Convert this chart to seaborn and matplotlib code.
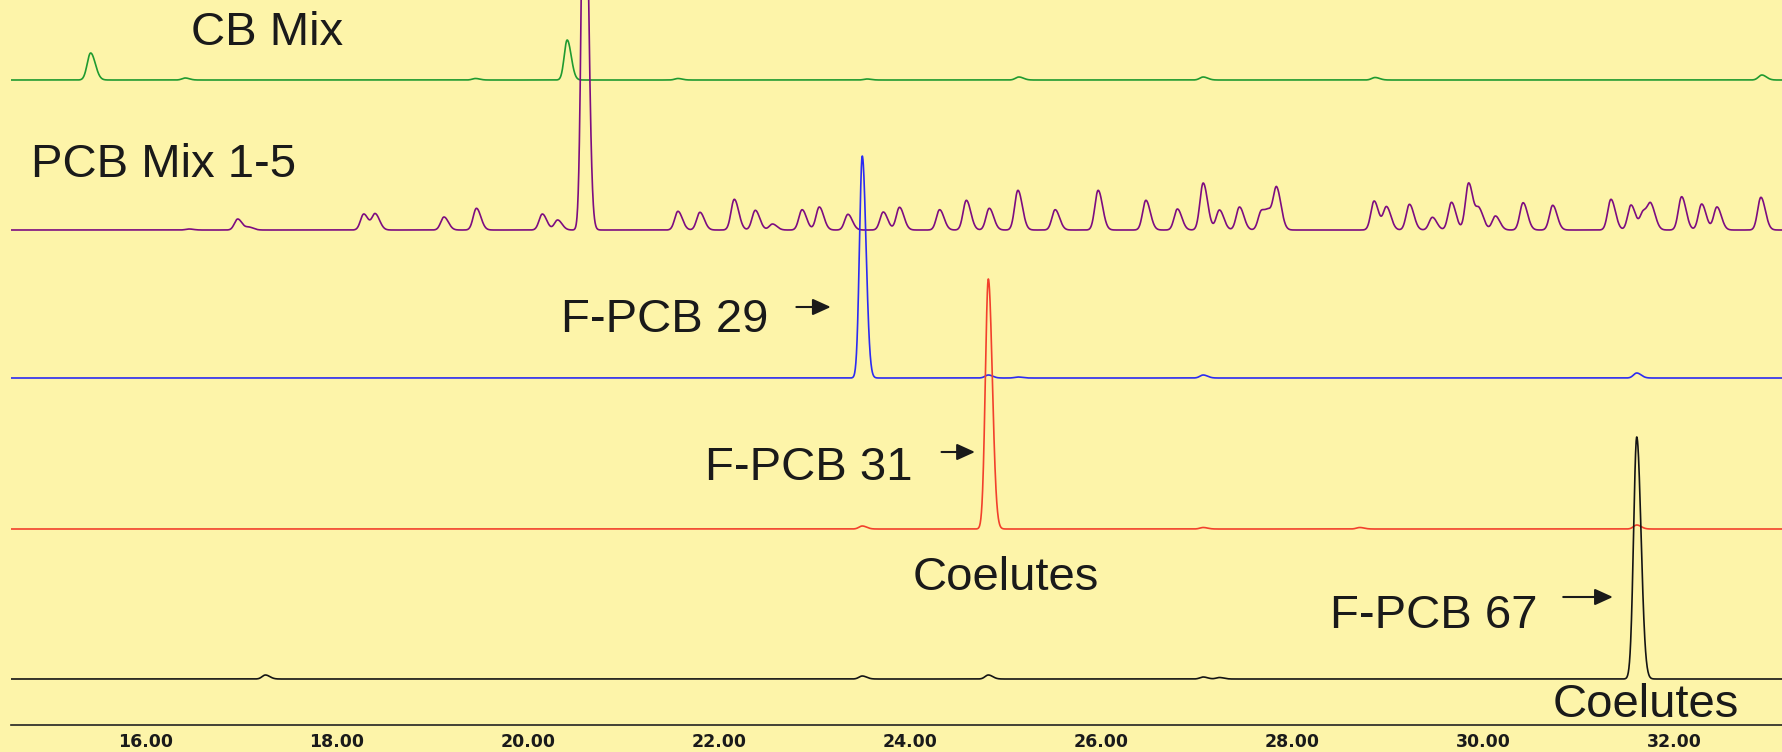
import numpy as np
import pandas as pd
import matplotlib
matplotlib.use("Agg")
import matplotlib.pyplot as plt
import seaborn as sns
from matplotlib.ticker import MultipleLocator, FixedLocator, FixedFormatter

# ---- peak tables: retention time (min), peak height (detector units), sigma (min) ----
cb_mix_rt = [15.42, 16.41, 19.45, 20.41, 21.57, 23.55, 25.14, 27.07, 28.87, 32.92]
cb_mix_h = [27, 2, 1.5, 40, 1.5, 1, 3, 3, 2.5, 5]
cb_mix_w = [0.036, 0.033, 0.033, 0.031, 0.033, 0.033, 0.035, 0.035, 0.035, 0.035]

pcb_mix_rt = [16.45, 16.96, 17.08, 18.28, 18.40, 19.12, 19.46, 20.15, 20.31, 20.59,
              21.57, 21.80, 22.16, 22.38, 22.56, 22.87, 23.05, 23.35, 23.72, 23.89,
              24.31, 24.59, 24.83, 25.13, 25.52, 25.97, 26.47, 26.80, 27.07, 27.24,
              27.45, 27.68, 27.76, 27.84, 28.86, 28.99, 29.23, 29.47, 29.67, 29.85,
              29.96, 30.13, 30.42, 30.73, 31.34, 31.55, 31.68, 31.76, 32.08, 32.29,
              32.45, 32.91]
pcb_mix_h = [1, 11, 2.7, 16, 16, 13, 21.7, 16, 10, 450,
             18.7, 17.7, 30.7, 19.7, 6, 20.3, 23, 15.7, 18, 22.7,
             20.3, 29.7, 21.7, 39.7, 20.3, 39.7, 29.7, 21, 47, 20,
             23, 19, 15, 40, 29, 23, 25.7, 12.7, 27.7, 47,
             20, 14, 27.3, 24.7, 30.7, 25, 18, 23, 33.3, 26,
             23, 32.7]
pcb_mix_w = [0.034] * 9 + [0.029] + [0.034] * 42

fpcb29_rt = [23.50, 24.82, 25.13, 27.07, 31.61]
fpcb29_h = [222, 3, 1, 3, 5]
fpcb29_w = [0.029, 0.034, 0.034, 0.034, 0.034]

fpcb31_rt = [23.50, 24.82, 27.07, 28.71, 31.61]
fpcb31_h = [3, 250, 1.5, 1.5, 4]
fpcb31_w = [0.034, 0.031, 0.034, 0.034, 0.034]

fpcb67_rt = [17.25, 23.50, 24.82, 27.07, 27.24, 31.61]
fpcb67_h = [4, 3, 4, 2, 1.5, 242]
fpcb67_w = [0.034, 0.034, 0.034, 0.034, 0.034, 0.033]

trace_names = ["CB Mix", "PCB Mix 1-5", "F-PCB 29", "F-PCB 31", "F-PCB 67"]

tick_values = [16, 18, 20, 22, 24, 26, 28, 30, 32]
tick_labels = ["16.00", "18.00", "20.00", "22.00", "24.00",
               "26.00", "28.00", "30.00", "32.00"]

# ---- layout ----
trace_offsets = [645, 495, 347, 196, 46]
trace_colors = ["#1f9a30", "#7d0c80", "#2b2bf2", "#f2402c", "#141414"]
tail_ratio = 1.35          # peaks tail slightly on their trailing side
x_min, x_max = 14.586, 33.131
bg = "#fdf4a9"

sns.set_style("white", {"axes.facecolor": bg, "figure.facecolor": bg})
plt.rcParams["font.family"] = ["Liberation Sans", "DejaVu Sans"]

time = np.linspace(x_min, x_max, 9000)


def chromatogram(rts, heights, sigmas):
    sig = np.zeros_like(time)
    for rt, h, s in zip(rts, heights, sigmas):
        width = np.where(time < rt, s, s * tail_ratio)
        sig += h * np.exp(-0.5 * ((time - rt) / width) ** 2)
    return sig


tables = [(cb_mix_rt, cb_mix_h, cb_mix_w), (pcb_mix_rt, pcb_mix_h, pcb_mix_w),
          (fpcb29_rt, fpcb29_h, fpcb29_w), (fpcb31_rt, fpcb31_h, fpcb31_w),
          (fpcb67_rt, fpcb67_h, fpcb67_w)]
frames = []
for name, (rts, hs, ws), off in zip(trace_names, tables, trace_offsets):
    frames.append(pd.DataFrame({"time": time,
                                "signal": chromatogram(rts, hs, ws) + off,
                                "trace": name}))
data = pd.concat(frames, ignore_index=True)

fig = plt.figure(figsize=(17.82, 7.52), dpi=100)
ax = fig.add_axes([11 / 1782, 27 / 752, 1 - 11 / 1782, 1 - 27 / 752])

sns.lineplot(data=data, x="time", y="signal", hue="trace", hue_order=trace_names,
             palette=trace_colors, estimator=None, sort=False, legend=False,
             linewidth=1.2, ax=ax)

ax.set_xlim(x_min, x_max)
ax.set_ylim(0, 725)
ax.set_xlabel("")
ax.set_ylabel("")
ax.set_yticks([])
for side in ["top", "left", "right"]:
    ax.spines[side].set_visible(False)
ax.spines["bottom"].set_color("#222222")
ax.spines["bottom"].set_linewidth(1.2)

ax.xaxis.set_major_locator(FixedLocator(tick_values))
ax.xaxis.set_major_formatter(FixedFormatter(tick_labels))
ax.xaxis.set_minor_locator(MultipleLocator(0.4))
ax.tick_params(axis="x", which="major", direction="out", length=5, width=1,
               color="#222222", pad=0.5, labelsize=12.5, labelcolor="#1a1a1a")
ax.tick_params(axis="x", which="minor", direction="out", length=3.5, width=1,
               color="#222222")
for lbl in ax.get_xticklabels():
    lbl.set_family("DejaVu Sans")
    lbl.set_fontweight("bold")

# ---- labels and arrows ----
txt = dict(fontsize=34, color="#1a1a1a", va="baseline", ha="left")
ax.text(16.47, 680, "CB Mix", **txt)
ax.text(14.80, 548, "PCB Mix 1-5", **txt)
ax.text(20.35, 393, "F-PCB 29", **txt)
ax.text(21.85, 245, "F-PCB 31", **txt)
ax.text(24.03, 135, "Coelutes", **txt)
ax.text(28.40, 97, "F-PCB 67", **txt)
ax.text(30.73, 8, "Coelutes", **txt)

arrow = dict(arrowstyle="-|>,head_length=0.55,head_width=0.25",
             color="#1a1a1a", lw=1.5, shrinkA=0, shrinkB=0, mutation_scale=20)
ax.annotate("", xy=(23.17, 418), xytext=(22.81, 418), arrowprops=arrow)
ax.annotate("", xy=(24.68, 273), xytext=(24.33, 273), arrowprops=arrow)
ax.annotate("", xy=(31.36, 128), xytext=(30.84, 128), arrowprops=arrow)

fig.savefig("out.png", dpi=100, facecolor=bg)
